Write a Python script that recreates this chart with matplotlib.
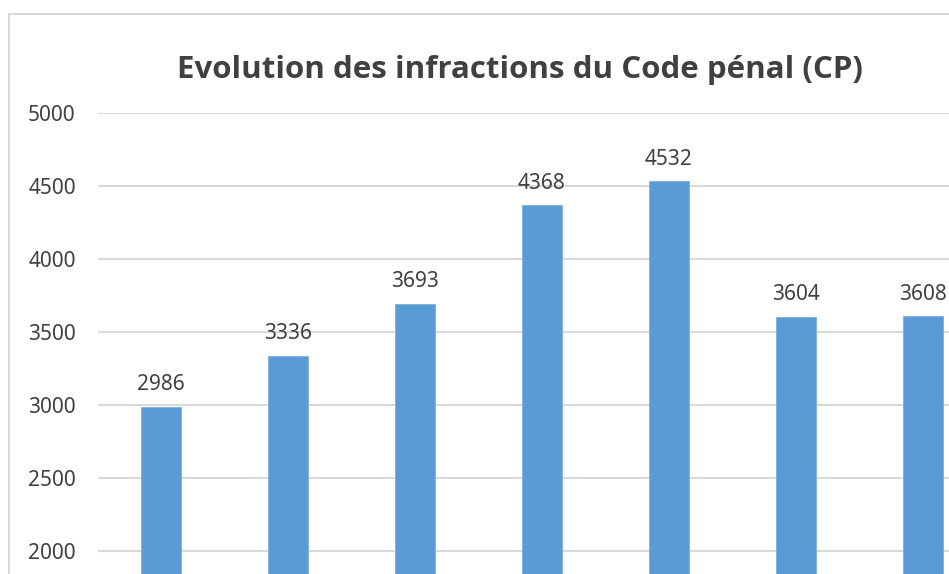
import numpy as np
import matplotlib.pyplot as plt
from matplotlib.patches import Rectangle

# Values (x-axis labels are cropped off in the reference)
values = [2986, 3336, 3693, 4368, 4532, 3604, 3608]
yticks = [2000, 2500, 3000, 3500, 4000, 4500, 5000]
title = "Evolution des infractions du Code pénal (CP)"

bar_color = "#5B9BD5"
text_color = "#404040"
grid_color = "#D9D9D9"

plt.rcParams['font.family'] = ['Noto Sans', 'DejaVu Sans']

W, H = 949, 574
fig = plt.figure(figsize=(W / 100, H / 100), dpi=100)

# chart area border (cropped at right and bottom)
fig.patches.append(Rectangle((9 / W, -0.1), 1.2, (H - 14) / H + 0.1,
                             transform=fig.transFigure, fill=False,
                             edgecolor=grid_color, linewidth=1.5))

# plot area: left at 98px, top gridline (5000) at y=113px, runs off bottom/right
ax = fig.add_axes([98 / W, 0, 1 - 98 / W, (H - 113) / H])

x = np.arange(len(values))
ax.bar(x, values, width=0.315, color=bar_color, edgecolor="#7FB0E0",
       linewidth=0.6, zorder=3)

for xi, v in zip(x, values):
    ax.annotate(str(v), (xi, v), xytext=(0, 12), textcoords='offset points',
                ha='center', va='baseline', fontsize=15, color=text_color)

# axis limits matched to pixel positions of the reference
px_per_unit = 127.0
ax.set_xlim((98 - 161) / px_per_unit, (949 - 161) / px_per_unit)
ax.set_ylim(2000 - (574 - 551) / 146 * 1000, 5000)

ax.set_yticks(yticks)
ax.set_xticks([])
ax.grid(axis='y', color=grid_color, linewidth=1.5, zorder=0)
for s in ax.spines.values():
    s.set_visible(False)
ax.tick_params(axis='y', length=0, pad=16, labelsize=15, labelcolor=text_color)

fig.text(520 / W, 1 - 78 / H, title, ha='center', va='baseline',
         fontsize=22.5, fontweight='bold', color=text_color,
         family=['Open Sans', 'DejaVu Sans'])

fig.savefig("out.png", dpi=100)
